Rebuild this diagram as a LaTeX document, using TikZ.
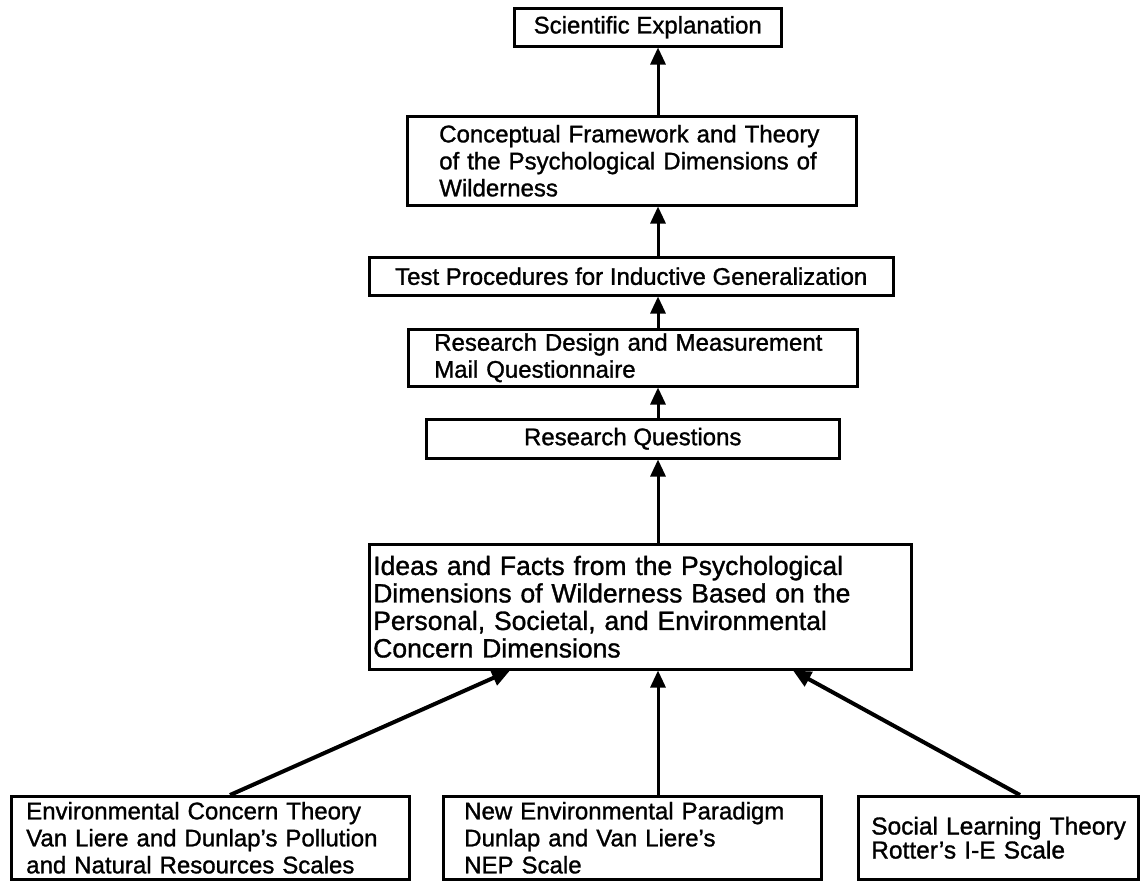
\documentclass[tikz,border=0pt]{standalone}
\usepackage{fontspec}
\setmainfont{Liberation Sans}[BoldFont={Liberation Sans},BoldFeatures={FakeBold=1.2}]
\usetikzlibrary{arrows.meta}
\begin{document}
\begin{tikzpicture}[x=1pt,y=-1pt,
  box/.style={draw, line width=2.5pt, anchor=north west, inner ysep=0pt,
    font=\fontsize{24}{27}\selectfont\bfseries},
  cbox/.style={box, inner xsep=0pt, align=center},
  lbox/.style={box, align=left},
  arr/.style={line width=3pt, -{Triangle[length=17pt,width=15pt]}},
  sarr/.style={line width=4pt, -{Triangle[length=18pt,width=16pt]}}]
\useasboundingbox (0,0) rectangle (1143,881);
\coordinate (spine) at (658,0);

\node[cbox, minimum width=267pt, minimum height=38pt] (se) at (513,7) {Scientific Explanation};
\node[lbox, text width=385pt, inner xsep=32pt, minimum height=89pt] (cf) at (406,115)
  {\mbox{Conceptual Framework and Theory}\\\mbox{of the Psychological Dimensions of}\\\mbox{Wilderness}};
\node[cbox, minimum width=524pt, minimum height=38pt] (ts) at (368,256) {Test Procedures for Inductive Generalization};
\node[lbox, text width=397pt, inner xsep=26pt, minimum height=57pt] (rd) at (407,328)
  {\mbox{Research Design and Measurement}\\\mbox{Mail Questionnaire}};
\node[cbox, minimum width=413pt, minimum height=39pt] (rq) at (425,418) {Research Questions};
\node[lbox, font=\fontsize{26.5}{27.5}\selectfont\bfseries, text width=534pt, inner xsep=4pt, minimum height=125pt] (id) at (368,543)
  {\mbox{Ideas and Facts from the Psychological}\\\mbox{Dimensions of Wilderness Based on the}\\\mbox{Personal, Societal, and Environmental}\\\mbox{Concern Dimensions}};
\node[lbox, text width=368pt, inner xsep=15pt, minimum height=83pt] (env) at (10,795)
  {\mbox{Environmental Concern Theory}\\\mbox{Van Liere and Dunlap's Pollution}\\\mbox{and Natural Resources Scales}};
\node[lbox, text width=336pt, inner xsep=21pt, minimum height=83pt] (nep) at (442,795)
  {\mbox{New Environmental Paradigm}\\\mbox{Dunlap and Van Liere's}\\\mbox{NEP Scale}};
\node[lbox, font=\fontsize{24.5}{24}\selectfont\bfseries, text width=254pt, inner xsep=13pt, minimum height=83pt] (soc) at (857,795)
  {\mbox{Social Learning Theory}\\\mbox{Rotter's I-E Scale}};

\draw[arr] (cf.north -| spine) -- (se.south -| spine);
\draw[arr] (ts.north -| spine) -- (cf.south -| spine);
\draw[arr] (rd.north -| spine) -- (ts.south -| spine);
\draw[arr] (rq.north -| spine) -- (rd.south -| spine);
\draw[arr] (id.north -| spine) -- (rq.south -| spine);
\draw[arr] (nep.north -| spine) -- (id.south -| spine);
\draw[sarr] ([xshift=220pt]env.north west) -- ([xshift=142pt]id.south west);
\draw[sarr] ([xshift=163pt]soc.north west) -- ([xshift=425pt]id.south west);
\end{tikzpicture}
\end{document}
